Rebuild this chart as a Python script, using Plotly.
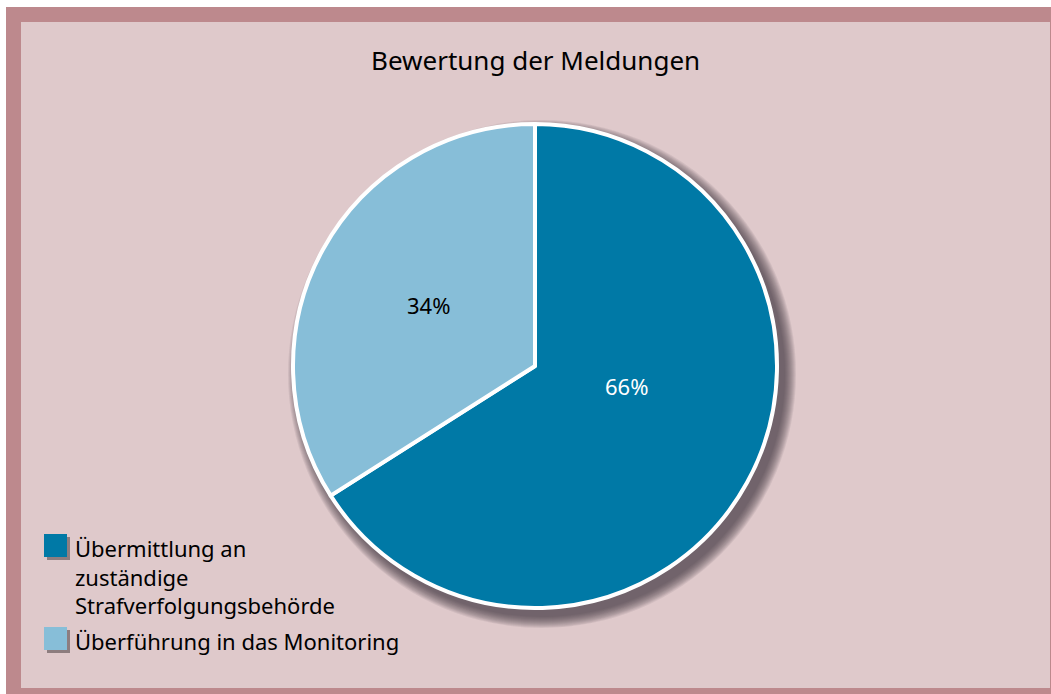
import plotly.graph_objects as go

# ---- data ----
labels = ["Übermittlung an<br>zuständige<br>Strafverfolgungsbehörde", "Überführung in das Monitoring"]
values = [66, 34]
colors = ["#0079A6", "#87BED8"]
text_colors = ["white", "black"]
title_text = "Bewertung der Meldungen"

W, H = 1051, 694
FONT = "Noto Sans"

def px(x):
    return x / W

def py(y):
    return 1 - y / H

BORDER = "#BD898D"
BG = "#DFC9CB"

# pie geometry (pixels)
cx, cy, r = 535, 366, 242
# label anchor positions (pixels) for the percentage labels
label_pos = [(626, 386), (428, 305)]

shapes = []
# outer frame
shapes.append(dict(type="rect", xref="paper", yref="paper", x0=px(6), x1=px(W), y0=py(H), y1=py(7),
                   fillcolor=BORDER, line_width=0, layer="below"))
shapes.append(dict(type="rect", xref="paper", yref="paper", x0=px(21), x1=px(1050), y0=py(688), y1=py(22),
                   fillcolor=BG, line_width=0, layer="below"))
# soft drop shadow of pie
for k in range(12):
    rr = r + 12 - k
    shapes.append(dict(type="circle", xref="paper", yref="paper",
                       x0=px(cx + 7 - rr), x1=px(cx + 7 + rr), y0=py(cy + 8 + rr), y1=py(cy + 8 - rr),
                       fillcolor="rgba(70,60,62,0.09)", line_width=0, layer="below"))

fig = go.Figure()
fig.add_trace(go.Pie(
    labels=labels, values=values, sort=False, direction="clockwise", rotation=0,
    marker=dict(colors=colors, line=dict(color="white", width=4)),
    textinfo="none",
    domain=dict(x=[px(cx - r), px(cx + r)], y=[py(cy + r), py(cy - r)]),
    showlegend=False, hoverinfo="label+percent",
))

annotations = [dict(text=title_text, x=px(535), y=py(60), xref="paper", yref="paper", showarrow=False,
                    xanchor="center", yanchor="middle", font=dict(family=FONT, size=26, color="black"))]

total = sum(values)
for v, (lx, ly), tc in zip(values, label_pos, text_colors):
    annotations.append(dict(text=f"{round(100 * v / total)}%", x=px(lx), y=py(ly), xref="paper", yref="paper",
                            showarrow=False, xanchor="center", yanchor="middle",
                            font=dict(family=FONT, size=22, color=tc)))

# manual legend
leg_tops = [534, 627]
for i, (lab, col) in enumerate(zip(labels, colors)):
    t = leg_tops[i]
    shapes.append(dict(type="rect", xref="paper", yref="paper", x0=px(47), x1=px(70), y0=py(t + 26), y1=py(t + 3),
                       fillcolor="rgba(60,50,52,0.5)", line_width=0))
    shapes.append(dict(type="rect", xref="paper", yref="paper", x0=px(44), x1=px(67), y0=py(t + 23), y1=py(t),
                       fillcolor=col, line_width=0))
    annotations.append(dict(text=lab, x=px(73), y=py(t - 3), xref="paper", yref="paper",
                            showarrow=False, xanchor="left", yanchor="top", align="left",
                            font=dict(family=FONT, size=22, color="black")))

fig.update_layout(
    width=W, height=H, margin=dict(l=0, r=0, t=0, b=0),
    paper_bgcolor="white", plot_bgcolor="white",
    shapes=shapes, annotations=annotations, showlegend=False,
)

fig.write_html("out.html", config={"displayModeBar": False},
               post_script="document.body.style.margin='0';document.body.style.overflow='hidden';")
